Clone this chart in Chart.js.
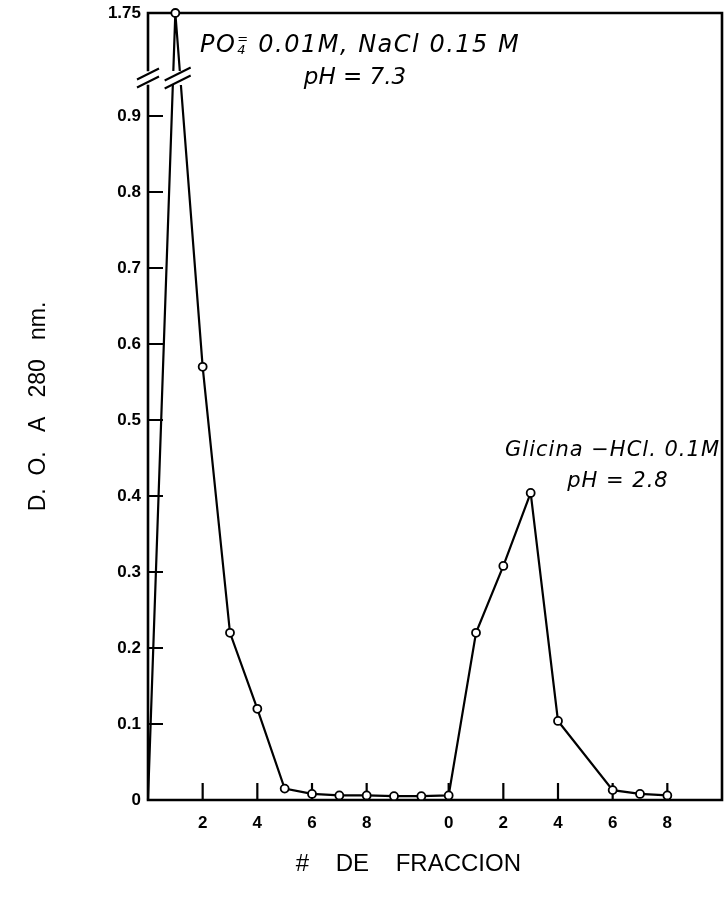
<!DOCTYPE html>
<html><head><meta charset="utf-8">
<script src="https://cdn.jsdelivr.net/npm/chart.js@4/dist/chart.umd.min.js"></script>
<style>html,body{margin:0;padding:0;background:#fff}#wrap{width:724px;height:903px}</style>
</head><body><div id="wrap"><canvas id="c" width="724" height="903"></canvas></div>
<script>
// ---- data ----
const pbsFractions = [0, 1, 2, 3, 4, 5, 6, 7, 8, 9, 10];
const pbsAbsorbance = [0, 1.75, 0.57, 0.22, 0.12, 0.015, 0.008, 0.006, 0.006, 0.005, 0.005];
const glycineFractions = [0, 1, 2, 3, 4, 5, 6, 7, 8];
const glycineAbsorbance = [0.006, 0.22, 0.308, 0.404, 0.104, null, 0.013, 0.008, 0.006];
const glycineOffset = 11;          // glycine fraction 0 sits after pbs fraction 10
const xTickPositions = [2, 4, 6, 8, 11, 13, 15, 17, 19];
const xTickLabels = ['2', '4', '6', '8', '0', '2', '4', '6', '8'];
const yTickValues = [0, 0.1, 0.2, 0.3, 0.4, 0.5, 0.6, 0.7, 0.8, 0.9, 1.75];
const yTickLabels = ['0', '0.1', '0.2', '0.3', '0.4', '0.5', '0.6', '0.7', '0.8', '0.9', '1.75'];
const axisBreakValue = 0.95;
const axisTopValue = 1.75;
const compressedTop = 1.0355;      // display height of the top of the broken axis

// ---- broken linear scale ----
function compress(v) {
  if (v <= axisBreakValue) return v;
  return axisBreakValue + (v - axisBreakValue) * (compressedTop - axisBreakValue) / (axisTopValue - axisBreakValue);
}
function expand(d) {
  if (d <= axisBreakValue) return d;
  return axisBreakValue + (d - axisBreakValue) * (axisTopValue - axisBreakValue) / (compressedTop - axisBreakValue);
}
class BrokenLinearScale extends Chart.LinearScale {
  getPixelForValue(value) {
    if (value === null || value === undefined || isNaN(value)) return NaN;
    return this.getPixelForDecimal(compress(value) / compress(this.max));
  }
  getValueForPixel(pixel) {
    return expand(this.getDecimalForPixel(pixel) * compress(this.max));
  }
}
BrokenLinearScale.id = 'brokenLinear';
BrokenLinearScale.defaults = Chart.LinearScale.defaults;
Chart.register(BrokenLinearScale);

const points = pbsFractions.map((f, i) => ({ x: f, y: pbsAbsorbance[i] }))
  .concat(glycineFractions.map((f, i) => ({ x: glycineOffset + f, y: glycineAbsorbance[i] })));

const tickFont = { family: 'Liberation Sans', size: 17, weight: 'bold' };

const framePlugin = {
  id: 'frame',
  beforeDatasetsDraw(chart) {
    const { ctx, chartArea: a, scales } = chart;
    const yb = scales.y.getPixelForValue(axisBreakValue);
    ctx.save();
    ctx.strokeStyle = '#000';
    ctx.lineWidth = 2.6;
    ctx.lineCap = 'square';
    ctx.beginPath();
    ctx.moveTo(a.left, a.top); ctx.lineTo(a.right, a.top);
    ctx.moveTo(a.right, a.top); ctx.lineTo(a.right, a.bottom);
    ctx.moveTo(a.left, a.bottom); ctx.lineTo(a.right, a.bottom);
    ctx.moveTo(a.left, a.top); ctx.lineTo(a.left, yb - 8);
    ctx.moveTo(a.left, yb + 8); ctx.lineTo(a.left, a.bottom);
    ctx.stroke();
    // inward tick marks
    ctx.lineWidth = 2.2;
    ctx.lineCap = 'butt';
    ctx.beginPath();
    scales.y.ticks.forEach(t => {
      if (t.value <= 0 || t.value > axisBreakValue) return;
      const py = scales.y.getPixelForValue(t.value);
      ctx.moveTo(a.left, py); ctx.lineTo(a.left + 15, py);
    });
    scales.x.ticks.forEach(t => {
      const px = scales.x.getPixelForValue(t.value);
      ctx.moveTo(px, a.bottom); ctx.lineTo(px, a.bottom - 17);
    });
    ctx.stroke();
    ctx.restore();
  },
  afterDatasetsDraw(chart) {
    const { ctx, chartArea: a, scales } = chart;
    const yb = scales.y.getPixelForValue(axisBreakValue);
    ctx.save();
    // gap in the data line
    ctx.fillStyle = '#fff';
    ctx.fillRect(a.left + 3, yb - 7, 48, 14);
    // break marks
    ctx.strokeStyle = '#000';
    ctx.lineWidth = 2;
    const xd = (scales.x.getPixelForValue(0) + scales.x.getPixelForValue(1)) / 2 + 16;
    const marks = [[a.left, 11], [xd, 13]];
    ctx.beginPath();
    marks.forEach(([cx, h]) => {
      [-4, 4].forEach(dy => {
        ctx.moveTo(cx - h, yb + dy + h * 0.5);
        ctx.lineTo(cx + h, yb + dy - h * 0.5);
      });
    });
    ctx.stroke();
    // annotations
    ctx.fillStyle = '#000';
    ctx.textBaseline = 'alphabetic';
    ctx.letterSpacing = '1.5px';
    const big = 'italic 24px "DejaVu Sans"';
    const small = 'italic 13px "DejaVu Sans"';
    let x = 200, y = 52;
    ctx.font = big;
    ctx.fillText('PO', x, y);
    x += ctx.measureText('PO').width + 1;
    ctx.font = small;
    ctx.fillText('=', x, y - 9);
    ctx.fillText('4', x, y + 2);
    x += ctx.measureText('4').width + 2;
    ctx.font = big;
    ctx.fillText(' 0.01M, NaCl 0.15 M', x, y);
    ctx.letterSpacing = '0px';
    ctx.font = 'italic 23px "DejaVu Sans"';
    ctx.textAlign = 'center';
    ctx.fillText('pH = 7.3', 355, 84);
    ctx.letterSpacing = '1px';
    ctx.font = 'italic 21px "DejaVu Sans"';
    ctx.textAlign = 'right';
    ctx.fillText('Glicina \u2212HCl. 0.1M', 720, 456);
    ctx.textAlign = 'center';
    ctx.fillText('pH = 2.8', 618, 487);
    ctx.restore();
  }
};

new Chart(document.getElementById('c'), {
  type: 'line',
  data: {
    datasets: [{
      data: points,
      borderColor: '#000',
      borderWidth: 2.2,
      pointRadius: points.map(p => (p.x === 0 ? 0 : 4)),
      pointBorderWidth: 1.8,
      pointBackgroundColor: '#fff',
      pointBorderColor: '#000',
      spanGaps: true,
      tension: 0,
      clip: false
    }]
  },
  options: {
    responsive: false,
    animation: false,
    layout: { autoPadding: false, padding: { top: 13, right: 2, bottom: 0, left: 0 } },
    plugins: { legend: { display: false }, tooltip: { enabled: false } },
    scales: {
      x: {
        type: 'linear', min: 0, max: 21,
        grid: { display: false, drawTicks: false },
        border: { display: false },
        afterFit(s) { s.height = 103; s.paddingLeft = 0; s.paddingRight = 0; },
        afterBuildTicks(s) { s.ticks = xTickPositions.map(v => ({ value: v })); },
        ticks: {
          autoSkip: false, maxRotation: 0, padding: 13, color: '#000', font: tickFont,
          callback: (v, i) => xTickLabels[i]
        },
        title: {
          display: true, text: '#    DE    FRACCION        ', color: '#000',
          font: { family: 'Liberation Sans', size: 24 },
          padding: { top: 0, bottom: 24 }
        }
      },
      y: {
        type: 'brokenLinear', min: 0, max: axisTopValue,
        grid: { display: false, drawTicks: false },
        border: { display: false },
        afterFit(s) { s.width = 148; s.paddingTop = 0; s.paddingBottom = 0; },
        afterBuildTicks(s) { s.ticks = yTickValues.map(v => ({ value: v })); },
        ticks: {
          autoSkip: false, padding: 7, color: '#000', font: tickFont,
          callback: (v, i) => yTickLabels[i]
        },
        title: {
          display: true, text: 'D.  O.   A   280   nm.', color: '#000',
          font: { family: 'Liberation Sans', size: 23 },
          padding: { top: 25, bottom: 0 }
        }
      }
    }
  },
  plugins: [framePlugin]
});
</script>
</body></html>
